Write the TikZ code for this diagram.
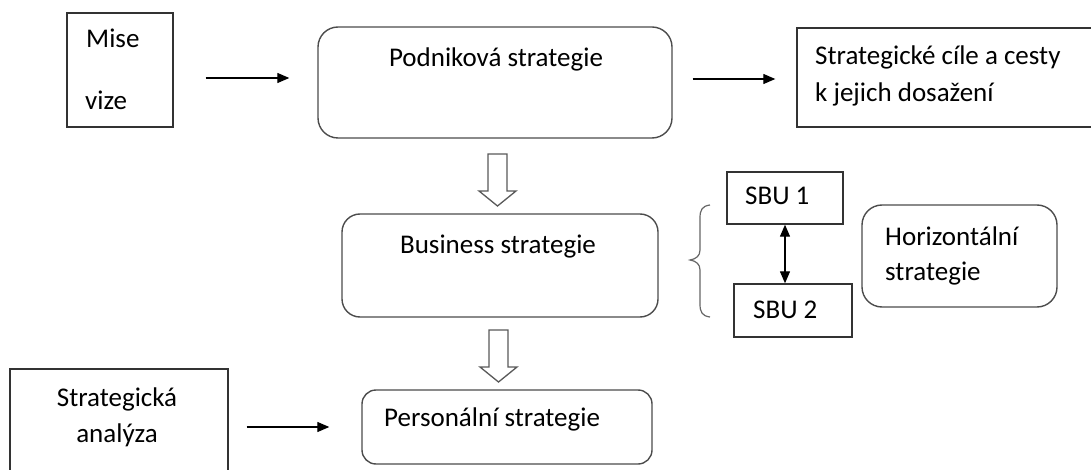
\documentclass[tikz,border=0pt]{standalone}
\usepackage{fontspec}
\setmainfont{Carlito}
\usetikzlibrary{arrows.meta}
\begin{document}
\begin{tikzpicture}[x=1pt,y=-1pt,
  box/.style={draw=black!80, line width=1.4pt, inner sep=0pt},
  rbox/.style={draw=black!70, line width=1.4pt, rounded corners=#1, inner sep=0pt},
  txt/.style={font=\fontsize{27}{36}\selectfont, inner sep=0pt, text=black},
  arr/.style={line width=1.3pt, -{Triangle[length=12pt,width=10pt]}},
  darr/.style={line width=1.3pt, {Triangle[length=12pt,width=10pt]}-{Triangle[length=12pt,width=10pt]}},
  hollow/.style={draw=black!65, line width=1.3pt, fill=white, line join=miter},
  hollow arrow/.pic={
    \draw[hollow] (-9.5,0) -- (-9.5,37) -- (-18.5,37) -- (0,52) -- (18.5,37)
      -- (9.5,37) -- (9.5,0) -- cycle;
  },
]
\useasboundingbox (0,0) rectangle (1091,470);
\clip (0,0) rectangle (1091,470);

% boxes
\node[box, minimum width=106pt, minimum height=114pt] (mise) at (120,70) {};
\node[rbox=20pt, minimum width=354pt, minimum height=111pt] (pod) at (495,82.5) {};
\node[box, minimum width=296pt, minimum height=99pt] (goal) at (945,77.5) {};
\node[rbox=18pt, minimum width=316pt, minimum height=103pt] (bus) at (500,265.5) {};
\node[box, minimum width=116pt, minimum height=52pt] (sbu1) at (785,198) {};
\node[box, minimum width=118pt, minimum height=53pt] (sbu2) at (793,310.5) {};
\node[rbox=20pt, minimum width=195pt, minimum height=102pt] (hor) at (959.5,256) {};
\node[box, minimum width=218pt, minimum height=106pt] (ana) at (119,422) {};
\node[rbox=14pt, minimum width=290pt, minimum height=74pt] (pers) at (507,427) {};

% texts
\node[txt, anchor=base west] (tmise) at (86,48) {Mise};
\node[txt, anchor=base west] (tvize) at (85,110) {vize};
\node[txt, anchor=base] (tpod) at (496,67) {Podniková strategie};
\node[txt, anchor=base west] (tgoal1) at (815,65) {Strategické cíle a cesty};
\node[txt, anchor=base west] (tgoal2) at (815,102) {k jejich dosažení};
\node[txt, anchor=base] (tbus) at (498,253) {Business strategie};
\node[txt, anchor=base west] (tsbu1) at (745,205) {SBU 1};
\node[txt, anchor=base west] (tsbu2) at (753,318) {SBU 2};
\node[txt, anchor=base west] (thor1) at (885,245) {Horizontální};
\node[txt, anchor=base west] (thor2) at (885,280) {strategie};
\node[txt, anchor=base] (tana1) at (117,406) {Strategická};
\node[txt, anchor=base] (tana2) at (117,442) {analýza};
\node[txt, anchor=base west] (tpers) at (384,426) {Personální strategie};

% arrow rows
\coordinate (r1) at (0,78);
\coordinate (r2) at (0,79);
\coordinate (r3) at (0,427);
\draw[arr, shorten <=32pt, shorten >=28pt] (mise.east |- r1) -- (pod.west |- r1);
\draw[arr, shorten <=20pt, shorten >=21pt] (pod.east |- r2) -- (goal.west |- r2);
\draw[arr, shorten <=18pt, shorten >=32pt] (ana.east |- r3) -- (pers.west |- r3);
\draw[darr] (sbu1.south) -- (sbu1.south |- sbu2.north);

% hollow block arrows
\pic at (497.5,154) {hollow arrow};
\pic at (498.5,330) {hollow arrow};

% brace
\draw[black!60, line width=1.2pt] (710,205) .. controls (702,206) and (700,210) .. (700,218)
  -- (700,250) .. controls (700,256) and (696,259) .. (690,260)
  .. controls (696,261) and (700,264) .. (700,270)
  -- (700,304) .. controls (700,312) and (702,316) .. (710,317);
\end{tikzpicture}
\end{document}
